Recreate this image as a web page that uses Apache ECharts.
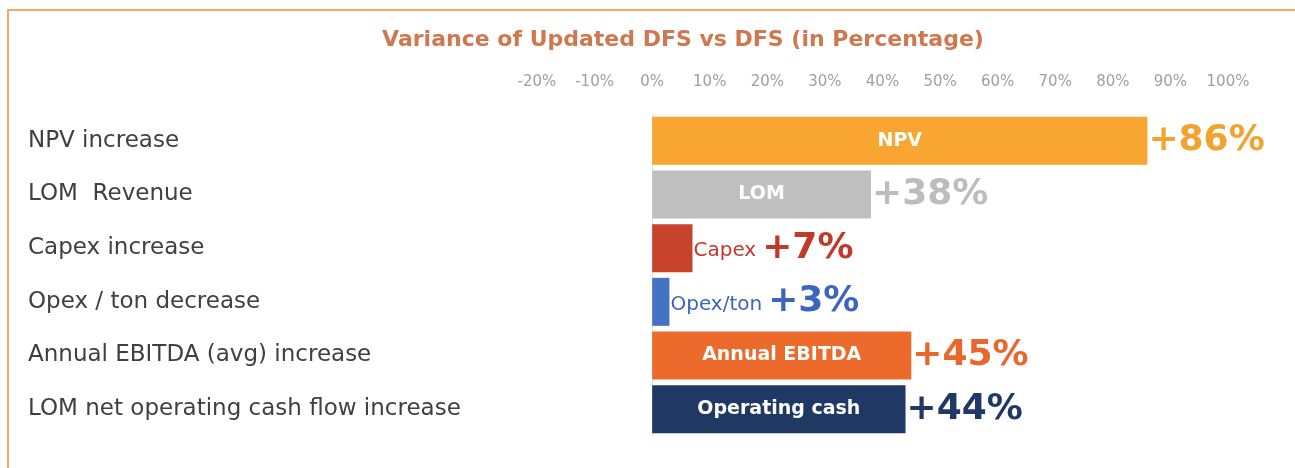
<!DOCTYPE html>
<html>
<head>
<meta charset="utf-8">
<script src="https://cdn.jsdelivr.net/npm/echarts@6/dist/echarts.min.js"></script>
<style>
  html, body { margin: 0; padding: 0; background: #fff; }
  #frame { position: absolute; left: 7px; top: 9px; width: 1288px; height: 459px;
           border-top: 2px solid #f6a562; border-left: 2px solid #f6a562; box-sizing: border-box; }
  #chart { position: absolute; left: 0; top: 0; width: 1295px; height: 468px; }
</style>
</head>
<body>
<div id="frame"></div>
<div id="chart"></div>
<script>
var categories = [
  'NPV increase',
  'LOM  Revenue',
  'Capex increase',
  'Opex / ton decrease',
  'Annual EBITDA (avg) increase',
  'LOM net operating cash flow increase'
];
var values = [86, 38, 7, 3, 45, 44];
var innerNames = ['NPV', 'LOM', '', '', 'Annual EBITDA', 'Operating cash'];
var outerNames = ['', '', 'Capex', 'Opex/ton', '', ''];
var tickValues = [-20, -10, 0, 10, 20, 30, 40, 50, 60, 70, 80, 90, 100];

var barColors = ['#f8a631', '#bfbfbf', '#c8432b', '#4472c4', '#ec6a2c', '#1f3864'];
var textColors = ['#f3a22e', '#bcbcbc', '#c0392b', '#3a66bd', '#e9672d', '#1f3864'];

var font = '"DejaVu Sans", sans-serif';

var barData = values.map(function (v, i) {
  return {
    value: v,
    itemStyle: { color: barColors[i] },
    label: {
      rich: {
        n: { color: textColors[i], fontSize: 20, fontFamily: font, padding: [5, 6, 0, 0] },
        v: { color: textColors[i], fontSize: 36, fontWeight: 'bold', fontFamily: font }
      }
    }
  };
});

var nameData = values.map(function (v, i) { return v; });

var chart = echarts.init(document.getElementById('chart'));
chart.setOption({
  animation: false,
  title: {
    text: 'Variance of Updated DFS vs DFS (in Percentage)',
    left: 678,
    textAlign: 'center',
    top: 24,
    textStyle: { color: '#cf774f', fontSize: 22, fontWeight: 'bold', fontFamily: font }
  },
  grid: { left: 537, right: 67, top: 114, bottom: 32 },
  xAxis: {
    type: 'value',
    position: 'top',
    min: -20,
    max: 100,
    interval: 10,
    axisLine: { show: false },
    axisTick: { show: false },
    splitLine: { show: false },
    axisLabel: {
      margin: 24,
      color: '#a0a0a0',
      fontSize: 15,
      fontFamily: font,
      formatter: function (v) { return tickValues.indexOf(v) >= 0 ? v + '%' : ''; }
    }
  },
  yAxis: {
    type: 'category',
    inverse: true,
    data: categories,
    axisLine: { show: true, onZero: true, lineStyle: { color: '#e4e0ea', width: 1 } },
    axisTick: { show: false },
    axisLabel: {
      align: 'left',
      margin: 509,
      color: '#404040',
      fontSize: 23,
      fontFamily: font
    }
  },
  series: [
    {
      type: 'bar',
      barWidth: 48,
      data: barData,
      label: {
        show: true,
        position: 'right',
        distance: 1,
        formatter: function (p) {
          var n = outerNames[p.dataIndex];
          var s = '{v|+' + values[p.dataIndex] + '%}';
          return n ? '{n|' + n + '}' + s : s;
        }
      },
      z: 2
    },
    {
      type: 'bar',
      barWidth: 48,
      barGap: '-100%',
      silent: true,
      data: nameData,
      itemStyle: { color: 'rgba(0,0,0,0)' },
      label: {
        show: true,
        position: 'inside',
        color: '#ffffff',
        fontSize: 19,
        fontWeight: 'bold',
        fontFamily: font,
        formatter: function (p) { return innerNames[p.dataIndex]; }
      },
      z: 3
    }
  ]
});
</script>
</body>
</html>
